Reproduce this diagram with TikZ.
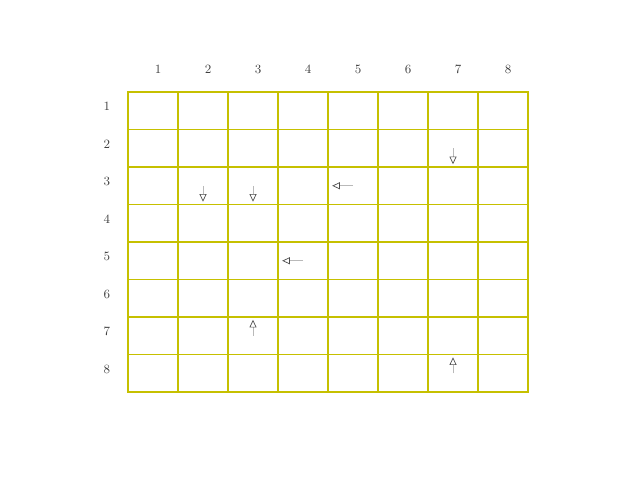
\documentclass[tikz,border=0pt]{standalone}
\usepackage{xcolor}
\usepackage{tikz}
\usetikzlibrary{arrows.meta, positioning, calc}
\definecolor{gridline}{RGB}{198,192,0}

\begin{document}
\begin{tikzpicture}[x=1.25cm, y=-0.9375cm,
        cell/.style={rectangle, draw=gridline, line width=1.4pt, minimum width=1.25cm, minimum height=0.9375cm, inner sep=0pt},
        lbl/.style={font=\small, text=black!75, inner sep=0pt},
        piece/.style={draw=gray!55, line width=0.5pt, -{Triangle[open, length=5.5pt, width=5pt, color=black!70]}}]
        \useasboundingbox (-3.2cm,2.3cm) rectangle (12.8cm,-9.7cm);

        % Board (8 x 8 cells)
        \foreach \r in {1,...,8}
            \foreach \c in {1,...,8}
                \node[cell] (c-\r-\c) at (\c-0.5, \r-0.5) {};

        % Column and row numbers
        \foreach \c in {1,...,8}
            \node[lbl] (col-\c) at ($(c-1-\c.center)+(0.125cm,1.04cm)$) {\c};
        \foreach \r in {1,...,8}
            \node[lbl] (row-\r) at ($(c-\r-1.center)+(-1.15cm,0.1cm)$) {\r};

        % Pieces (direction arrows)
        \draw[piece] (c-2-7.center) -- ++(0,-0.4cm);
        \draw[piece] (c-3-2.center) -- ++(0,-0.4cm);
        \draw[piece] (c-3-3.center) -- ++(0,-0.4cm);
        \draw[piece] (c-3-5.center) -- ++(-0.52cm,0);
        \draw[piece] (c-5-4.center) -- ++(-0.52cm,0);
        \draw[piece] (c-7-3.center) -- ++(0,0.4cm);
        \draw[piece] (c-8-7.center) -- ++(0,0.4cm);
\end{tikzpicture}
\end{document}
